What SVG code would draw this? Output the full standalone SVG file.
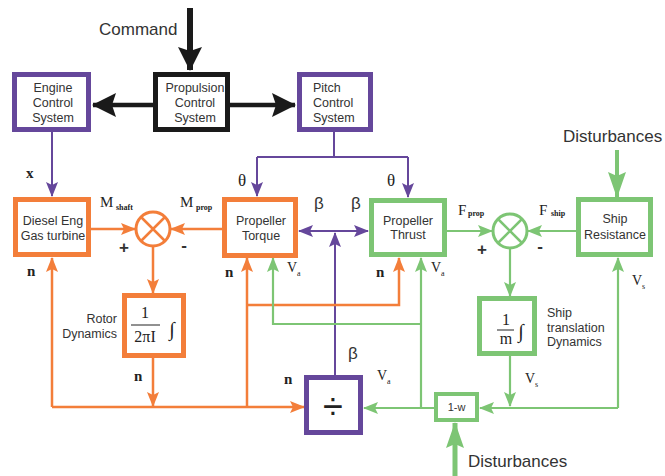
<svg xmlns="http://www.w3.org/2000/svg" width="665" height="476" viewBox="0 0 665 476">
<defs>
<style>
.box{fill:#fff;stroke-width:5}
.k{stroke:#1a1a1a}.o{stroke:#F37E3A}.p{stroke:#65479B}.g{stroke:#7DC574}
.lbl{font-family:"Liberation Sans",Arial,sans-serif;font-size:12.5px;fill:#333;text-anchor:middle}
.st{text-anchor:start}.en{text-anchor:end}
.big{font-family:"Liberation Sans",Arial,sans-serif;font-size:17px;fill:#333}
.m{font-family:"Liberation Serif","Times New Roman",serif;fill:#222}
.b{font-weight:bold}
.ln{fill:none}
</style>
<marker id="ao" viewBox="0 0 15 12" refX="14" refY="6" markerWidth="15" markerHeight="12" markerUnits="userSpaceOnUse" orient="auto"><path d="M0,0L15,6L0,12L3,6z" fill="#F37E3A"/></marker>
<marker id="ag" viewBox="0 0 15 12" refX="14" refY="6" markerWidth="15" markerHeight="12" markerUnits="userSpaceOnUse" orient="auto"><path d="M0,0L15,6L0,12L3,6z" fill="#7DC574"/></marker>
<marker id="ap" viewBox="0 0 15 12" refX="14" refY="6" markerWidth="15" markerHeight="12" markerUnits="userSpaceOnUse" orient="auto-start-reverse"><path d="M0,0L15,6L0,12L3,6z" fill="#65479B"/></marker>
<marker id="ak" viewBox="0 0 24 24" refX="23" refY="12" markerWidth="24" markerHeight="24" markerUnits="userSpaceOnUse" orient="auto"><path d="M0,0L24,12L0,24L4,12z" fill="#1a1a1a"/></marker>
<marker id="agb" viewBox="0 0 26 18" refX="25" refY="9" markerWidth="26" markerHeight="18" markerUnits="userSpaceOnUse" orient="auto"><path d="M0,0L26,9L0,18L4,9z" fill="#7DC574"/></marker>
</defs>
<rect width="665" height="476" fill="#fff"/>

<g id="connectors" class="ln">
<path class="k" d="M190,8V70" stroke-width="6" marker-end="url(#ak)"/>
<path class="k" d="M154,105H93" stroke-width="4.5" marker-end="url(#ak)"/>
<path class="k" d="M230,105H295" stroke-width="4.5" marker-end="url(#ak)"/>
<path class="p" d="M52,132V196" stroke-width="2" marker-end="url(#ap)"/>
<path class="p" d="M334,132V157" stroke-width="2"/>
<path class="p" d="M257,157H408" stroke-width="2"/>
<path class="p" d="M257,157V196" stroke-width="2" marker-end="url(#ap)"/>
<path class="p" d="M408,157V197" stroke-width="2" marker-end="url(#ap)"/>
<path class="p" d="M299,231H368" stroke-width="2" marker-start="url(#ap)" marker-end="url(#ap)"/>
<path class="p" d="M335,376V233" stroke-width="2" marker-end="url(#ap)"/>
<path class="o" d="M91,229H135" stroke-width="2.5" marker-end="url(#ao)"/>
<path class="o" d="M222,229H171" stroke-width="2.5" marker-end="url(#ao)"/>
<path class="o" d="M153,247V293" stroke-width="2.5" marker-end="url(#ao)"/>
<path class="o" d="M153,358V406" stroke-width="2.5" marker-end="url(#ao)"/>
<path class="o" d="M52,407V258" stroke-width="2.5" marker-end="url(#ao)"/>
<path class="o" d="M52,407H304" stroke-width="2.5" marker-end="url(#ao)"/>
<path class="o" d="M247,407V258" stroke-width="2.5" marker-end="url(#ao)"/>
<path class="o" d="M247,305H399V258" stroke-width="2.5" marker-end="url(#ao)"/>
<path class="g" d="M447,231H492" stroke-width="2.2" marker-end="url(#ag)"/>
<path class="g" d="M576,231H528" stroke-width="2.2" marker-end="url(#ag)"/>
<path class="g" d="M510,249V296" stroke-width="2.2" marker-end="url(#ag)"/>
<path class="g" d="M510,356V406" stroke-width="2.2" marker-end="url(#ag)"/>
<path class="g" d="M618,408H480" stroke-width="2.2" marker-end="url(#ag)"/>
<path class="g" d="M618,408V258" stroke-width="2.2" marker-end="url(#ag)"/>
<path class="g" d="M434,408H364" stroke-width="2.2" marker-end="url(#ag)"/>
<path class="g" d="M421,408V258" stroke-width="2.2" marker-end="url(#ag)"/>
<path class="g" d="M421,324H273V258" stroke-width="2.2" marker-end="url(#ag)"/>
<path class="g" d="M617,150V197" stroke-width="4" marker-end="url(#agb)"/>
<path class="g" d="M455,476V423" stroke-width="5" marker-end="url(#agb)"/>
</g>

<text class="big" x="99" y="35">Command</text>
<text class="big" x="563" y="142">Disturbances</text>
<text class="big" x="468" y="467">Disturbances</text>

<g id="propulsion">
<rect class="box k" x="155.5" y="74.5" width="72" height="55"/>
<text class="lbl" x="195" y="92">Propulsion</text>
<text class="lbl" x="195" y="107">Control</text>
<text class="lbl" x="195" y="122">System</text>
</g>
<g id="engine">
<rect class="box p" x="14.5" y="74.5" width="74" height="55"/>
<text class="lbl" x="53" y="92">Engine</text>
<text class="lbl" x="53" y="107">Control</text>
<text class="lbl" x="53" y="122">System</text>
</g>
<g id="pitch">
<rect class="box p" x="299.5" y="74.5" width="71" height="55"/>
<text class="lbl st" x="313" y="92">Pitch</text>
<text class="lbl st" x="313" y="107">Control</text>
<text class="lbl st" x="313" y="122">System</text>
</g>
<g id="diesel">
<rect class="box o" x="15.5" y="199.5" width="73" height="55"/>
<text class="lbl" x="53" y="225">Diesel Eng</text>
<text class="lbl" x="53" y="240">Gas turbine</text>
</g>
<g id="sum1">
<circle cx="153" cy="229" r="17" fill="#fff" stroke="#F37E3A" stroke-width="3"/>
<path d="M141,217L165,241M165,217L141,241" stroke="#F37E3A" stroke-width="2.5"/>
</g>
<g id="torque">
<rect class="box o" x="224.5" y="199.5" width="71" height="56"/>
<text class="lbl" x="261" y="225">Propeller</text>
<text class="lbl" x="261" y="240">Torque</text>
</g>
<g id="thrust">
<rect class="box g" x="371.5" y="200.5" width="73" height="54"/>
<text class="lbl" x="408" y="225">Propeller</text>
<text class="lbl" x="408" y="239">Thrust</text>
</g>
<g id="sum2">
<circle cx="510" cy="231" r="17" fill="#fff" stroke="#7DC574" stroke-width="3"/>
<path d="M498,219L522,243M522,219L498,243" stroke="#7DC574" stroke-width="2.5"/>
</g>
<g id="shipres">
<rect class="box g" x="578.5" y="199.5" width="72" height="55"/>
<text class="lbl" x="615" y="223">Ship</text>
<text class="lbl" x="615" y="239">Resistance</text>
</g>
<g id="rotor">
<rect class="box o" x="124.5" y="295.5" width="59" height="60"/>
<text class="m" x="145" y="318" font-size="16" text-anchor="middle">1</text>
<path d="M131,325H160" stroke="#222" stroke-width="1"/>
<text class="m" x="145" y="342" font-size="16" text-anchor="middle">2πI</text>
<text class="m" x="172" y="336" font-size="20" text-anchor="middle">∫</text>
<text class="lbl en" x="117" y="323">Rotor</text>
<text class="lbl en" x="117" y="338">Dynamics</text>
</g>
<g id="translation">
<rect class="box g" x="479.5" y="298.5" width="55" height="55"/>
<text class="m" x="506" y="325" font-size="16" text-anchor="middle">1</text>
<path d="M497,330H514" stroke="#222" stroke-width="1"/>
<text class="m" x="506" y="344" font-size="16" text-anchor="middle">m</text>
<text class="m" x="521" y="338" font-size="20" text-anchor="middle">∫</text>
<text class="lbl st" x="547" y="317">Ship</text>
<text class="lbl st" x="547" y="332">translation</text>
<text class="lbl st" x="547" y="346">Dynamics</text>
</g>
<g id="divide">
<rect class="box p" x="306.5" y="377.5" width="54" height="55"/>
<text x="333" y="419" font-family="Liberation Sans,Arial,sans-serif" font-size="36" fill="#222" text-anchor="middle">÷</text>
</g>
<g id="onew">
<rect fill="#fff" class="g" stroke-width="4" x="436" y="394" width="41" height="26"/>
<text x="456.5" y="411" font-family="Liberation Sans,Arial,sans-serif" font-size="11" fill="#333" text-anchor="middle">1-w</text>
</g>

<g id="labels">
<text class="m b" x="26" y="178" font-size="15">x</text>
<text class="m" x="100" y="207" font-size="15">M</text><text class="m b" x="116" y="210" font-size="8">shaft</text>
<text class="m" x="180" y="207" font-size="15">M</text><text class="m b" x="196" y="210" font-size="8">prop</text>
<text class="m" x="458" y="215" font-size="15">F</text><text class="m b" x="468" y="216" font-size="8">prop</text>
<text class="m" x="539" y="215" font-size="15">F</text><text class="m b" x="551" y="216" font-size="8">ship</text>
<text class="big" x="124" y="253" font-size="16" text-anchor="middle" font-weight="bold">+</text>
<text class="big" x="184" y="251" font-size="16" text-anchor="middle" font-weight="bold">-</text>
<text class="big" x="482" y="255" font-size="16" text-anchor="middle" font-weight="bold">+</text>
<text class="big" x="540" y="252" font-size="16" text-anchor="middle" font-weight="bold">-</text>
<text class="m" x="242" y="186" font-size="17" text-anchor="middle">θ</text>
<text class="m" x="391" y="186" font-size="17" text-anchor="middle">θ</text>
<text class="big" x="319" y="209" font-size="16" text-anchor="middle">β</text>
<text class="big" x="356" y="209" font-size="16" text-anchor="middle">β</text>
<text class="big" x="353" y="359" font-size="16" text-anchor="middle">β</text>
<text class="m b" x="27" y="276" font-size="15">n</text>
<text class="m b" x="225" y="277" font-size="15">n</text>
<text class="m b" x="376" y="277" font-size="15">n</text>
<text class="m b" x="134" y="381" font-size="15">n</text>
<text class="m b" x="284" y="384" font-size="15">n</text>
<text class="m" x="287" y="272" font-size="14">V</text><text class="m" x="297" y="276" font-size="8">a</text>
<text class="m" x="431" y="272" font-size="14">V</text><text class="m" x="441" y="276" font-size="8">a</text>
<text class="m" x="377" y="380" font-size="14">V</text><text class="m" x="387" y="384" font-size="8">a</text>
<text class="m" x="632" y="285" font-size="14">V</text><text class="m" x="642" y="289" font-size="8">s</text>
<text class="m" x="525" y="383" font-size="14">V</text><text class="m" x="535" y="387" font-size="8">s</text>
</g>
</svg>
